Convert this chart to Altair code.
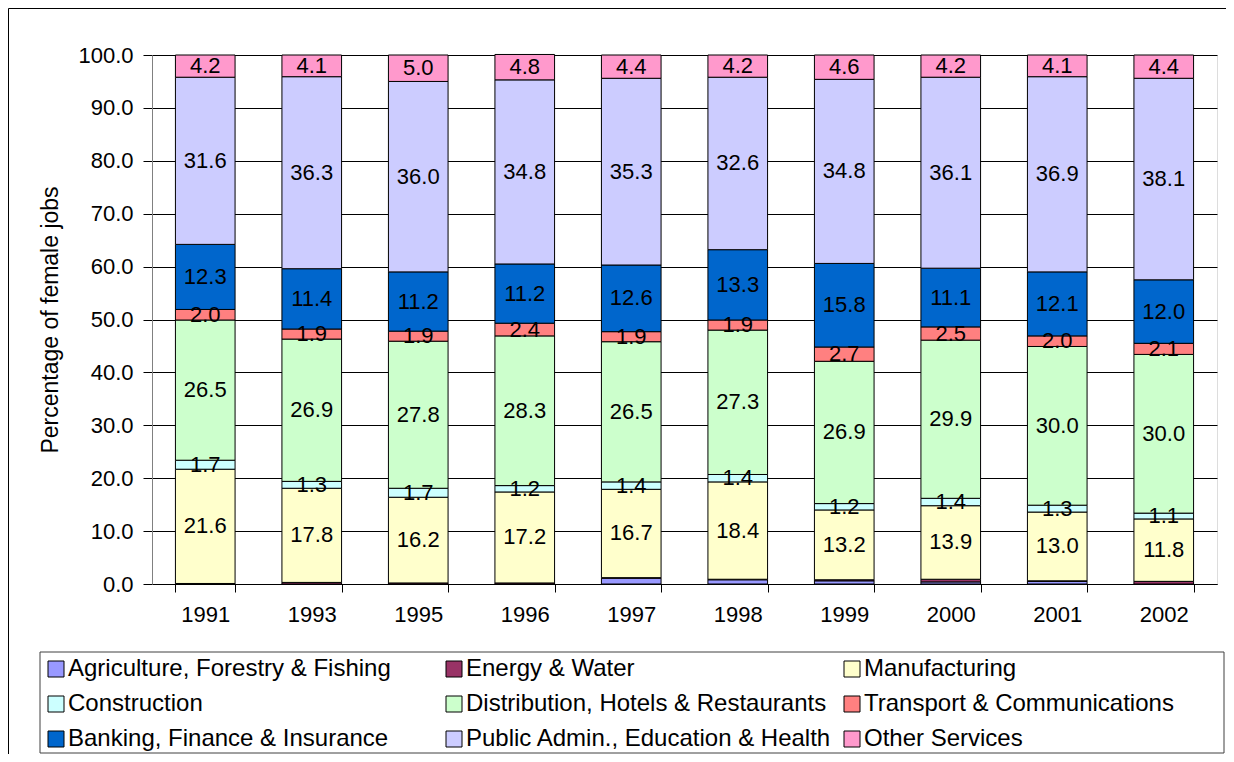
import altair as alt
import pandas as pd

years = ["1991", "1993", "1995", "1996", "1997", "1998", "1999", "2000", "2001", "2002"]
sectors = [
    "Agriculture, Forestry & Fishing",
    "Energy & Water",
    "Manufacturing",
    "Construction",
    "Distribution, Hotels & Restaurants",
    "Transport & Communications",
    "Banking, Finance & Insurance",
    "Public Admin., Education & Health",
    "Other Services",
]
colors = ["#9999FF", "#993366", "#FFFFCC", "#CCFFFF", "#CCFFCC",
          "#FF8080", "#0066CC", "#CCCCFF", "#FF99CC"]

agriculture = [0.0, 0.0, 0.0, 0.0, 1.1, 0.8, 0.6, 0.4, 0.5, 0.0]
energy = [0.1, 0.3, 0.2, 0.2, 0.1, 0.1, 0.2, 0.5, 0.1, 0.5]
manufacturing = [21.6, 17.8, 16.2, 17.2, 16.7, 18.4, 13.2, 13.9, 13.0, 11.8]
construction = [1.7, 1.3, 1.7, 1.2, 1.4, 1.4, 1.2, 1.4, 1.3, 1.1]
distribution = [26.5, 26.9, 27.8, 28.3, 26.5, 27.3, 26.9, 29.9, 30.0, 30.0]
transport = [2.0, 1.9, 1.9, 2.4, 1.9, 1.9, 2.7, 2.5, 2.0, 2.1]
banking = [12.3, 11.4, 11.2, 11.2, 12.6, 13.3, 15.8, 11.1, 12.1, 12.0]
public_admin = [31.6, 36.3, 36.0, 34.8, 35.3, 32.6, 34.8, 36.1, 36.9, 38.1]
other = [4.2, 4.1, 5.0, 4.8, 4.4, 4.2, 4.6, 4.2, 4.1, 4.4]

series = [agriculture, energy, manufacturing, construction, distribution,
          transport, banking, public_admin, other]

rows = []
for i, (name, vals) in enumerate(zip(sectors, series)):
    for y, v in zip(years, vals):
        rows.append({"year": y, "sector": name, "idx": i, "value": v})
df = pd.DataFrame(rows)

# legend is laid out column by column: reorder so rows read like the original
legend_order = [0, 3, 6, 1, 4, 7, 2, 5, 8]
legend_domain = [sectors[k] for k in legend_order]
legend_range = [colors[k] for k in legend_order]

FONT = "Liberation Sans"

x_enc = alt.X(
    "year:N",
    title=None,
    sort=years,
    scale=alt.Scale(paddingInner=0.44, paddingOuter=0.22),
    axis=alt.Axis(
        labelAngle=0, labelFontSize=22, labelFont=FONT, labelColor="black",
        labelPadding=12, tickBand="extent", tickSize=8, tickColor="black",
        domainColor="black", grid=False,
    ),
)

base = alt.Chart(df)

bars = base.mark_bar(stroke="black", strokeWidth=1, opacity=1).encode(
    x=x_enc,
    y=alt.Y(
        "value:Q",
        stack="zero",
        scale=alt.Scale(domain=[0, 100], nice=False),
        title="Percentage of female jobs",
        axis=alt.Axis(
            values=list(range(0, 101, 10)), format=".1f",
            labelFontSize=22, labelFont=FONT, labelColor="black", labelPadding=10,
            tickSize=9, tickColor="black", domainColor="#808080",
            grid=True, gridColor="black", gridWidth=1,
            titleFontSize=23, titleFont=FONT, titleFontWeight="normal",
            titleColor="black", titlePadding=15,
        ),
    ),
    color=alt.Color(
        "sector:N",
        scale=alt.Scale(domain=legend_domain, range=legend_range),
        legend=alt.Legend(
            title=None, orient="none", legendX=-108, legendY=602,
            columns=3, gridAlign="all", columnPadding=8, rowPadding=11,
            symbolType="square", symbolSize=256, symbolStrokeColor="black",
            symbolStrokeWidth=1, symbolOpacity=1,
            labelFontSize=24, labelFont=FONT, labelColor="black",
            labelLimit=600, labelOffset=0, padding=0,
        ),
    ),
    order=alt.Order("idx:Q", sort="ascending"),
)

labels = base.transform_stack(
    stack="value", groupby=["year"],
    sort=[alt.SortField("idx", order="ascending")], as_=["y0", "y1"],
).transform_calculate(
    mid="(datum.y0 + datum.y1) / 2"
).transform_filter(
    "datum.idx >= 2"
).mark_text(fontSize=22, font=FONT, color="black", baseline="middle").encode(
    x=alt.X("year:N", sort=years),
    y=alt.Y("mid:Q"),
    text=alt.Text("value:Q", format=".1f"),
)

frame_df = pd.DataFrame({"d": [0]})
cover = alt.Chart(frame_df).mark_rect(fill="white", strokeWidth=0).encode(
    x=alt.value(1073.5), x2=alt.value(1100), y=alt.value(-60), y2=alt.value(720)
)
frame_left = alt.Chart(frame_df).mark_rule(color="black", strokeWidth=1).encode(
    x=alt.value(-143.5), y=alt.value(-46.5), y2=alt.value(700)
)
frame_top = alt.Chart(frame_df).mark_rule(color="black", strokeWidth=1).encode(
    x=alt.value(-143.5), x2=alt.value(1090), y=alt.value(-46.5)
)
legend_box = alt.Chart(frame_df).mark_rect(
    fill="white", fillOpacity=0, stroke="#404040", strokeWidth=1
).encode(
    x=alt.value(-112), x2=alt.value(1072), y=alt.value(597), y2=alt.value(698)
)

chart = alt.layer(bars, labels, cover, frame_left, frame_top, legend_box).properties(
    width=1065, height=529,
    autosize=alt.AutoSizeParams(type="none"),
    padding={"left": 144, "top": 47, "right": 9, "bottom": 170},
).configure_view(stroke="transparent").configure(font=FONT)

chart.save("out.html", embed_options={"renderer": "svg", "actions": False})
